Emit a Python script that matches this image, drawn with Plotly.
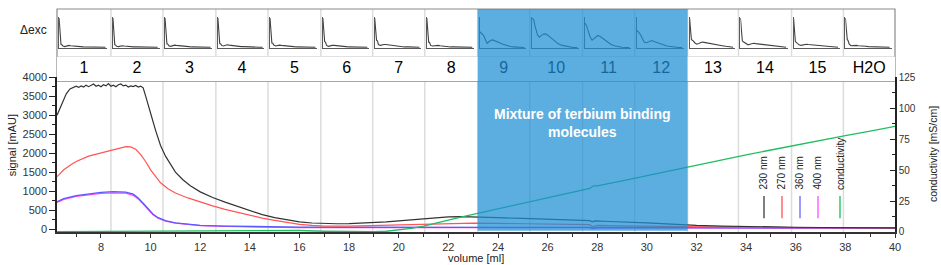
import plotly.graph_objects as go

# ---------------- data ----------------
vol_230 = [6.23, 6.4, 6.6, 6.75, 6.9, 7.0, 7.1, 7.2, 7.3, 7.4, 7.5, 7.6, 7.7, 7.8, 7.9, 8.0, 8.1, 8.2, 8.3,
           8.4, 8.5, 8.6, 8.7, 8.8, 8.9, 9.0, 9.1, 9.2, 9.3, 9.4, 9.5, 9.6, 9.7, 9.8, 9.9, 10.0, 10.2, 10.4,
           10.6, 10.8, 11.0, 11.3, 11.6, 12.0, 12.5, 13.0, 13.5, 14.0, 14.5, 15.0, 15.5, 16.0, 16.5, 17.0,
           17.5, 18.0, 18.5, 19.0, 19.5, 20.0, 20.5, 21.0, 21.5, 22.0, 22.5, 23.0, 23.5, 24.0, 25.0, 26.0,
           27.0, 27.7, 27.8, 27.9, 28.5, 29.0, 30.0, 31.0, 31.6, 32.0, 33.0, 34.0, 35.0, 36.0, 37.0, 38.0,
           39.0, 40.0]
sig_230 = [3000, 3250, 3560, 3690, 3720, 3760, 3730, 3770, 3740, 3790, 3750, 3780, 3820, 3760, 3790, 3750,
           3800, 3770, 3830, 3760, 3790, 3750, 3800, 3820, 3770, 3790, 3740, 3770, 3750, 3780, 3740, 3760,
           3720, 3500, 3300, 3050, 2600, 2200, 1920, 1700, 1500, 1300, 1140, 980, 830, 710, 600, 480, 380,
           300, 240, 190, 160, 145, 140, 145, 155, 165, 190, 215, 245, 275, 300, 320, 330, 325, 310, 300,
           280, 260, 235, 220, 190, 215, 200, 190, 165, 130, 105, 95, 80, 65, 55, 48, 42, 38, 35, 32]

vol_270 = [6.23, 6.5, 6.8, 7.0, 7.5, 8.0, 8.5, 8.8, 9.0, 9.2, 9.4, 9.6, 9.8, 10.0, 10.2, 10.4, 10.7, 11.0,
           11.5, 12.0, 12.5, 13.0, 13.5, 14.0, 14.5, 15.0, 15.5, 16.0, 16.5, 17.0, 18.0, 19.0, 20.0, 21.0,
           22.0, 23.0, 24.0, 25.0, 26.0, 27.0, 27.7, 27.8, 28.0, 29.0, 30.0, 31.0, 32.0, 34.0, 36.0, 38.0, 40.0]
sig_270 = [1380, 1560, 1700, 1780, 1920, 2010, 2090, 2140, 2170, 2165, 2100, 1960, 1780, 1560, 1380, 1220,
           1060, 950, 820, 710, 610, 520, 440, 360, 290, 230, 170, 125, 95, 80, 80, 95, 115, 135, 150, 155,
           150, 140, 130, 120, 115, 60, 95, 85, 75, 65, 55, 45, 38, 32, 28]

vol_360 = [6.23, 6.5, 7.0, 7.5, 8.0, 8.5, 9.0, 9.3, 9.5, 9.7, 9.9, 10.1, 10.3, 10.6, 11.0, 11.5, 12.0, 13.0,
           14.0, 15.0, 16.0, 18.0, 20.0, 22.0, 24.0, 26.0, 27.7, 27.8, 28.0, 30.0, 32.0, 35.0, 38.0, 40.0]
sig_360 = [720, 800, 880, 930, 965, 985, 975, 920, 820, 680, 520, 390, 300, 220, 165, 125, 100, 80, 65, 55,
           50, 48, 50, 52, 50, 48, 47, 20, 45, 42, 38, 32, 28, 26]

vol_400 = vol_360
sig_400 = [700, 780, 860, 905, 940, 955, 945, 890, 795, 660, 505, 380, 290, 210, 155, 115, 90, 70, 55, 45,
           40, 38, 40, 42, 40, 38, 37, 15, 35, 32, 28, 24, 20, 18]

vol_cond = [6.23, 8.0, 10.0, 12.0, 14.0, 16.0, 17.0, 18.0, 19.0, 19.5, 20.0, 20.5, 21.0, 21.5, 22.0, 22.5,
            23.0, 23.5, 24.0, 25.0, 26.0, 27.0, 27.7, 27.85, 28.0, 29.0, 30.0, 31.0, 32.0, 33.0, 34.0, 35.0,
            36.0, 37.0, 38.0, 39.0, 40.0]
cond = [0.3, 0.5, 0.3, 0.5, 1.0, 1.2, 0.6, 0.3, 0.2, 0.6, 1.5, 3.0, 4.8, 7.0, 9.5, 12.0, 14.3, 16.5, 18.6,
        23.0, 27.5, 32.0, 35.2, 37.3, 37.2, 41.3, 45.6, 49.8, 54.0, 58.2, 62.2, 66.2, 70.2, 74.0, 77.8, 81.5,
        85.3]

fraction_labels = ["1", "2", "3", "4", "5", "6", "7", "8", "9", "10", "11", "12", "13", "14", "15", "H2O"]
fraction_edges = [6.23, 8.40, 10.50, 12.63, 14.73, 16.86, 18.95, 21.05, 23.18, 25.28, 27.41, 29.51,
                  31.64, 33.69, 35.83, 37.92, 40.0]
highlight_fractions = ["9", "10", "11", "12"]

left_ticks = [0, 500, 1000, 1500, 2000, 2500, 3000, 3500, 4000]
right_ticks = [0, 25, 50, 75, 100, 125]
x_ticks = [8, 10, 12, 14, 16, 18, 20, 22, 24, 26, 28, 30, 32, 34, 36, 38, 40]

# excitation-difference thumbnails (one per fraction)
thumb_x = [0, 2, 3, 4, 6, 8, 10, 12, 14, 16, 19, 22, 25, 28, 32, 36, 40, 44, 48]
thumb_1 = [1.0, 0.13, 0.12, 0.08, 0.06, 0.09, 0.10, 0.09, 0.08, 0.07, 0.06, 0.06, 0.05, 0.05, 0.04, 0.05, 0.04, 0.04, 0.04]
thumb_2 = [1.0, 0.12, 0.11, 0.07, 0.06, 0.08, 0.09, 0.08, 0.07, 0.07, 0.06, 0.05, 0.05, 0.05, 0.04, 0.04, 0.04, 0.03, 0.04]
thumb_3 = [1.0, 0.15, 0.14, 0.09, 0.07, 0.10, 0.11, 0.10, 0.09, 0.08, 0.07, 0.06, 0.06, 0.05, 0.05, 0.04, 0.04, 0.04, 0.04]
thumb_4 = [1.0, 0.16, 0.15, 0.10, 0.08, 0.11, 0.12, 0.11, 0.10, 0.09, 0.08, 0.07, 0.06, 0.06, 0.05, 0.05, 0.04, 0.04, 0.04]
thumb_5 = [1.0, 0.18, 0.17, 0.11, 0.08, 0.10, 0.11, 0.10, 0.09, 0.08, 0.07, 0.06, 0.06, 0.05, 0.05, 0.04, 0.04, 0.04, 0.04]
thumb_6 = [1.0, 0.22, 0.20, 0.10, 0.07, 0.09, 0.10, 0.10, 0.09, 0.08, 0.07, 0.06, 0.06, 0.05, 0.05, 0.04, 0.04, 0.04, 0.04]
thumb_7 = [1.0, 0.27, 0.24, 0.13, 0.10, 0.12, 0.13, 0.13, 0.12, 0.11, 0.09, 0.08, 0.07, 0.06, 0.05, 0.05, 0.04, 0.04, 0.04]
thumb_8 = [1.0, 0.21, 0.19, 0.10, 0.08, 0.09, 0.10, 0.10, 0.09, 0.08, 0.07, 0.06, 0.05, 0.05, 0.05, 0.04, 0.04, 0.04, 0.04]
thumb_9 = [0.55, 0.50, 0.47, 0.44, 0.30, 0.17, 0.22, 0.27, 0.28, 0.26, 0.22, 0.18, 0.14, 0.10, 0.07, 0.05, 0.035, 0.03, 0.03]
thumb_10 = [1.0, 0.95, 0.80, 0.65, 0.45, 0.37, 0.42, 0.47, 0.48, 0.46, 0.38, 0.30, 0.22, 0.15, 0.10, 0.07, 0.04, 0.03, 0.03]
thumb_11 = [0.85, 0.76, 0.65, 0.55, 0.38, 0.27, 0.32, 0.38, 0.42, 0.41, 0.34, 0.26, 0.20, 0.14, 0.09, 0.06, 0.04, 0.03, 0.03]
thumb_12 = [0.60, 0.55, 0.50, 0.45, 0.30, 0.20, 0.19, 0.22, 0.25, 0.26, 0.22, 0.18, 0.14, 0.12, 0.08, 0.06, 0.04, 0.03, 0.03]
thumb_13 = [1.0, 0.30, 0.27, 0.25, 0.18, 0.14, 0.16, 0.19, 0.21, 0.20, 0.18, 0.16, 0.14, 0.13, 0.11, 0.09, 0.07, 0.05, 0.04]
thumb_14 = [1.0, 0.25, 0.22, 0.20, 0.14, 0.12, 0.14, 0.16, 0.17, 0.16, 0.15, 0.14, 0.13, 0.12, 0.10, 0.08, 0.06, 0.05, 0.04]
thumb_15 = [1.0, 0.22, 0.20, 0.17, 0.12, 0.10, 0.12, 0.13, 0.14, 0.13, 0.12, 0.11, 0.10, 0.09, 0.08, 0.07, 0.05, 0.05, 0.04]
thumb_h2o = [1.0, 0.30, 0.25, 0.15, 0.09, 0.10, 0.11, 0.10, 0.09, 0.08, 0.08, 0.07, 0.06, 0.06, 0.05, 0.05, 0.05, 0.04, 0.04]
thumb_profiles = [thumb_1, thumb_2, thumb_3, thumb_4, thumb_5, thumb_6, thumb_7, thumb_8, thumb_9, thumb_10,
                  thumb_11, thumb_12, thumb_13, thumb_14, thumb_15, thumb_h2o]

legend_names = ["230 nm", "270 nm", "360 nm", "400 nm", "conductivity"]
legend_colors = ["#555555", "#ff6a6a", "#7a7aff", "#ff66ff", "#33c46e"]

# ---------------- figure ----------------
FONT = "Liberation Sans, Arial, sans-serif"
X0, X1 = 6.227, 40.0
W, H = 941, 265
ML, MR, MT, MB = 57, 46, 3, 33
PW, PH = W - ML - MR, H - MT - MB


def px_y(py):
    return (H - MB - py) / PH


def xp(v):
    return (v - X0) / (X1 - X0)


MAIN_TOP = px_y(73)
HDR_LOW = px_y(77)
HDR_MID = px_y(52)

fig = go.Figure()

fig.add_trace(go.Scatter(x=vol_cond, y=cond, yaxis="y2", mode="lines", name="conductivity",
                         line=dict(color="#1fbf5f", width=1.3), showlegend=False))
fig.add_trace(go.Scatter(x=vol_400, y=sig_400, mode="lines", name="400 nm",
                         line=dict(color="#ff44ff", width=1.3), showlegend=False))
fig.add_trace(go.Scatter(x=vol_360, y=sig_360, mode="lines", name="360 nm",
                         line=dict(color="#5a5aff", width=1.3), showlegend=False))
fig.add_trace(go.Scatter(x=vol_270, y=sig_270, mode="lines", name="270 nm",
                         line=dict(color="#ff5555", width=1.2), showlegend=False))
fig.add_trace(go.Scatter(x=vol_230, y=sig_230, mode="lines", name="230 nm",
                         line=dict(color="#333333", width=1.2), showlegend=False))

# fraction numbers
centers = [(fraction_edges[i] + fraction_edges[i + 1]) / 2 for i in range(len(fraction_labels))]
fig.add_trace(go.Scatter(x=centers, y=[0.5] * len(centers), xaxis="x2", yaxis="y3", mode="text",
                         text=fraction_labels, textposition="middle center", cliponaxis=False,
                         textfont=dict(family=FONT, size=16, color="black"), showlegend=False,
                         hoverinfo="skip"))

layout = dict(
    width=W, height=H,
    margin=dict(l=ML, r=MR, t=MT, b=MB),
    paper_bgcolor="white", plot_bgcolor="white",
    font=dict(family=FONT, size=11, color="#333"),
    xaxis=dict(domain=[0, 1], range=[X0, X1], anchor="y", tickvals=x_ticks, ticks="outside", ticklen=4,
               tickcolor="#333", showline=True, linecolor="#333", linewidth=2, showgrid=False,
               zeroline=False, minor=dict(ticks="outside", dtick=1, ticklen=3, tickcolor="#333"),
               tickfont=dict(size=11, color="#333")),
    yaxis=dict(domain=[0, MAIN_TOP], range=[-77, 4000], tickvals=left_ticks, ticks="outside", ticklen=6,
               tickcolor="#222", showline=True, linecolor="#222", linewidth=1.5, showgrid=False,
               zeroline=False, minor=dict(ticks="outside", dtick=250, ticklen=3, tickcolor="#222"),
               tickfont=dict(size=11, color="#333")),
    yaxis2=dict(domain=[0, MAIN_TOP], range=[0, 125], overlaying="y", side="right", anchor="x",
                tickvals=right_ticks, ticks="inside", ticklen=5, tickcolor="#222", showline=True,
                linecolor="#222", linewidth=1.5, showgrid=False, zeroline=False,
                minor=dict(ticks="inside", dtick=12.5, ticklen=3, tickcolor="#222"),
                tickfont=dict(size=10, color="#333")),
    xaxis2=dict(domain=[0, 1], range=[X0, X1], anchor="y3", visible=False),
    yaxis3=dict(domain=[HDR_LOW, HDR_MID], range=[0, 1], anchor="x2", visible=False),
)

t_low, t_high = px_y(43.5), px_y(11.7)
for i, prof in enumerate(thumb_profiles):
    xa, ya = f"x{i + 3}", f"y{i + 4}"
    fig.add_trace(go.Scatter(x=thumb_x, y=prof, xaxis=xa, yaxis=ya, mode="lines",
                             line=dict(color="#404040", width=1.1), showlegend=False, hoverinfo="skip"))
    d0 = xp(fraction_edges[i]) + 2.0 / PW
    d1 = xp(fraction_edges[i + 1]) - 3.5 / PW
    layout[f"xaxis{i + 3}"] = dict(domain=[d0, d1], range=[0, 50], anchor=ya, showline=True,
                                   linecolor="#5a5a5a", linewidth=1, ticks="", showticklabels=False,
                                   showgrid=False, zeroline=False)
    layout[f"yaxis{i + 4}"] = dict(domain=[t_low, t_high], range=[0, 1.02], anchor=xa, showline=True,
                                   linecolor="#5a5a5a", linewidth=1, ticks="", showticklabels=False,
                                   showgrid=False, zeroline=False)

shapes = []
for e in fraction_edges[1:-1]:
    shapes.append(dict(type="line", xref="paper", yref="paper", x0=xp(e), x1=xp(e), y0=0, y1=1,
                       line=dict(color="#dcdcdc", width=1.5), layer="below"))
for yy in (HDR_LOW, HDR_MID):
    shapes.append(dict(type="line", xref="paper", yref="paper", x0=0, x1=1, y0=yy, y1=yy,
                       line=dict(color="#d6d6d6", width=1.2), layer="below"))
shapes.append(dict(type="rect", xref="paper", yref="paper", x0=0, x1=1, y0=HDR_LOW, y1=1,
                   line=dict(color="#8a8a8a", width=1.2), fillcolor="rgba(0,0,0,0)", layer="below"))

# legend
leg_px = [764, 782, 800, 818, 840]
for name, col, lx in zip(legend_names, legend_colors, leg_px):
    xx = (lx - ML) / PW
    shapes.append(dict(type="line", xref="paper", yref="paper", x0=xx, x1=xx, y0=px_y(195), y1=px_y(218),
                       line=dict(color=col, width=1.5)))

# highlighted region overlay
hi0 = fraction_edges[fraction_labels.index(highlight_fractions[0])]
hi1 = fraction_edges[fraction_labels.index(highlight_fractions[-1]) + 1]
shapes.append(dict(type="rect", xref="paper", yref="paper", x0=xp(hi0), x1=xp(hi1), y0=0.006, y1=1,
                   fillcolor="rgb(29,141,212)", opacity=0.72, line=dict(width=0), layer="above"))
layout["shapes"] = shapes

ann = []
for name, lx in zip(legend_names, leg_px):
    ann.append(dict(text=name, xref="paper", yref="paper", x=(lx - ML) / PW, y=px_y(191),
                    xanchor="center", yanchor="bottom", textangle=-90, showarrow=False,
                    font=dict(family=FONT, size=10, color="#222")))
ann.append(dict(text="Mixture of terbium binding<br>molecules", xref="paper", yref="paper",
                x=(xp(hi0) + xp(hi1)) / 2, y=px_y(120), xanchor="center", yanchor="middle",
                showarrow=False, font=dict(family=FONT, size=14, color="white", weight="bold")))
ann.append(dict(text="signal [mAU]", xref="paper", yref="paper", x=(12 - ML) / PW, y=px_y(143),
                xanchor="center", yanchor="middle", textangle=-90, showarrow=False,
                font=dict(family=FONT, size=11, color="#222")))
ann.append(dict(text="conductivity [mS/cm]", xref="paper", yref="paper", x=(933 - ML) / PW, y=px_y(152),
                xanchor="center", yanchor="middle", textangle=-90, showarrow=False,
                font=dict(family=FONT, size=10.5, color="#222")))
ann.append(dict(text="volume [ml]", xref="paper", yref="paper", x=(476 - ML) / PW, y=px_y(258.5),
                xanchor="center", yanchor="middle", showarrow=False,
                font=dict(family=FONT, size=11, color="#222")))
ann.append(dict(text="\u0394exc", xref="paper", yref="paper", x=(33 - ML) / PW, y=px_y(25),
                xanchor="center", yanchor="middle", showarrow=False,
                font=dict(family=FONT, size=12, color="#222")))
layout["annotations"] = ann

fig.update_layout(layout)
fig.write_html("out.html", config={"displayModeBar": False},
               post_script="document.body.style.margin='0px';document.body.style.overflow='hidden';")
